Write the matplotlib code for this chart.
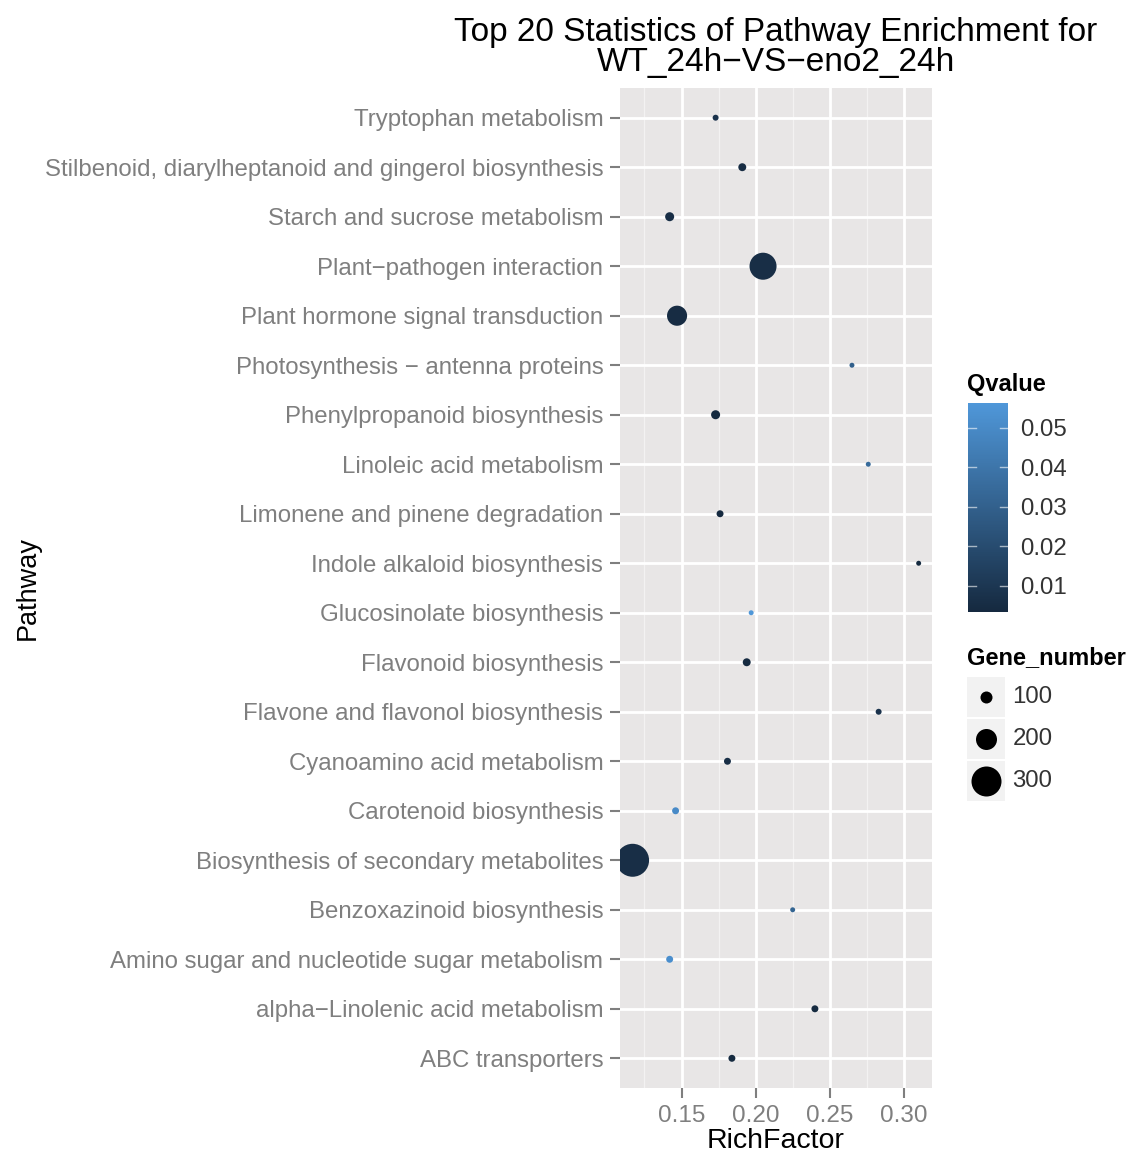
import numpy as np
import matplotlib
matplotlib.use("Agg")
import matplotlib.pyplot as plt
from matplotlib.colors import LinearSegmentedColormap, Normalize

# pathways listed top to bottom as in the chart
pathways = [
    "Tryptophan metabolism",
    "Stilbenoid, diarylheptanoid and gingerol biosynthesis",
    "Starch and sucrose metabolism",
    "Plant\u2212pathogen interaction",
    "Plant hormone signal transduction",
    "Photosynthesis \u2212 antenna proteins",
    "Phenylpropanoid biosynthesis",
    "Linoleic acid metabolism",
    "Limonene and pinene degradation",
    "Indole alkaloid biosynthesis",
    "Glucosinolate biosynthesis",
    "Flavonoid biosynthesis",
    "Flavone and flavonol biosynthesis",
    "Cyanoamino acid metabolism",
    "Carotenoid biosynthesis",
    "Biosynthesis of secondary metabolites",
    "Benzoxazinoid biosynthesis",
    "Amino sugar and nucleotide sugar metabolism",
    "alpha\u2212Linolenic acid metabolism",
    "ABC transporters",
]
rich_factor = [0.173, 0.191, 0.142, 0.205, 0.147, 0.265, 0.173, 0.276, 0.176, 0.310,
               0.197, 0.194, 0.283, 0.181, 0.146, 0.117, 0.225, 0.142, 0.240, 0.184]
qvalue = [0.008, 0.005, 0.006, 0.006, 0.005, 0.030, 0.004, 0.035, 0.004, 0.004,
          0.056, 0.004, 0.008, 0.006, 0.050, 0.006, 0.032, 0.052, 0.004, 0.004]
gene_number = [33, 55, 67, 267, 190, 22, 67, 22, 44, 22,
               22, 55, 33, 44, 44, 333, 22, 44, 44, 44]

q_min, q_max = 0.0034, 0.0563
q_ticks = [0.01, 0.02, 0.03, 0.04, 0.05]
size_breaks = [100, 200, 300]
x_ticks = [0.15, 0.20, 0.25, 0.30]

DPI = 100
cmap = LinearSegmentedColormap.from_list("gg", ["#15293F", "#4F97D9"])
norm = Normalize(q_min, q_max)


def marker_area(n):
    # diameter in pixels grows with gene count, scatter wants pt^2
    d_px = 3 + 0.09 * np.asarray(n, dtype=float)
    return (d_px * 72.0 / DPI) ** 2


grey_txt = "#7F7F7F"
fig = plt.figure(figsize=(11.35, 11.57), dpi=DPI)
plt.rcParams['font.family'] = ['Liberation Sans', 'DejaVu Sans']

W, H = 1135.0, 1157.0
ax = fig.add_axes([620 / W, 1 - 1088 / H, 312 / W, 1000 / H])
ax.set_facecolor("#E8E6E6")

ypos = np.arange(len(pathways))[::-1] + 1
ax.scatter(rich_factor, ypos, s=marker_area(gene_number), c=qvalue, cmap=cmap, norm=norm,
           linewidths=0, zorder=3)

ax.set_xlim(0.1085, 0.319)
ax.set_ylim(0.4, len(pathways) + 0.6)
ax.set_xticks(x_ticks)
ax.set_xticklabels(["%.2f" % v for v in x_ticks])
ax.set_xticks([0.125, 0.175, 0.225, 0.275], minor=True)
ax.set_yticks(ypos)
ax.set_yticklabels(pathways)
ax.grid(True, which="major", color="white", linewidth=2.0, zorder=1)
ax.grid(True, which="minor", axis="x", color="#F3F2F2", linewidth=0.9, zorder=1)
ax.set_axisbelow(True)
for sp in ax.spines.values():
    sp.set_visible(False)
ax.tick_params(axis="both", which="major", color="#7F7F7F", length=7, width=1.5,
               labelcolor=grey_txt)
ax.tick_params(axis="y", pad=5, labelsize=17.3)
ax.tick_params(axis="x", pad=5, labelsize=17.5)
ax.tick_params(which="minor", length=0)
ax.set_xlabel("RichFactor", fontsize=20.5, color="black", labelpad=1)
ax.set_ylabel("Pathway", fontsize=19.5, color="black")
ax.yaxis.set_label_coords(-579 / 312.0, 0.5)
ax.set_title("Top 20 Statistics of Pathway Enrichment for\nWT_24h\u2212VS\u2212eno2_24h",
             fontsize=24, color="black", linespacing=0.98, pad=12)

# colour bar for Qvalue
cax = fig.add_axes([968 / W, 1 - 612 / H, 40 / W, 209 / H])
cb = fig.colorbar(plt.cm.ScalarMappable(norm=norm, cmap=cmap), cax=cax)
cb.outline.set_visible(False)
cb.set_ticks(q_ticks)
cb.set_ticklabels(["%.2f" % v for v in q_ticks])
cax.tick_params(length=0, labelsize=17.3, labelcolor="#333333", pad=9)
for t in q_ticks:
    cax.plot([0, 0.2], [t, t], color="white", lw=1, alpha=0.6, transform=cax.get_yaxis_transform())
    cax.plot([0.8, 1.0], [t, t], color="white", lw=1, alpha=0.6, transform=cax.get_yaxis_transform())
fig.text(967 / W, 1 - 385 / H, "Qvalue", fontsize=17, fontweight="bold", va="center", ha="left")

# size legend for Gene_number
fig.text(967 / W, 1 - 658 / H, "Gene_number", fontsize=17, fontweight="bold", va="center", ha="left")
lax = fig.add_axes([967 / W, 1 - 802 / H, 38 / W, 126 / H])
lax.set_xlim(0, 1)
lax.set_ylim(0, 3)
lax.axis("off")
for i, n in enumerate(size_breaks):
    yc = 2.5 - i
    lax.add_patch(plt.Rectangle((0, yc - 0.48), 1, 0.96, color="#F2F2F2", lw=0))
    lax.scatter([0.5], [yc], s=marker_area(n), color="black", linewidths=0, zorder=3)
    lax.text(1.2, yc, str(n), fontsize=17.3, color="#333333", va="center", ha="left",
             transform=lax.transData)

fig.savefig("out.png", dpi=DPI)
